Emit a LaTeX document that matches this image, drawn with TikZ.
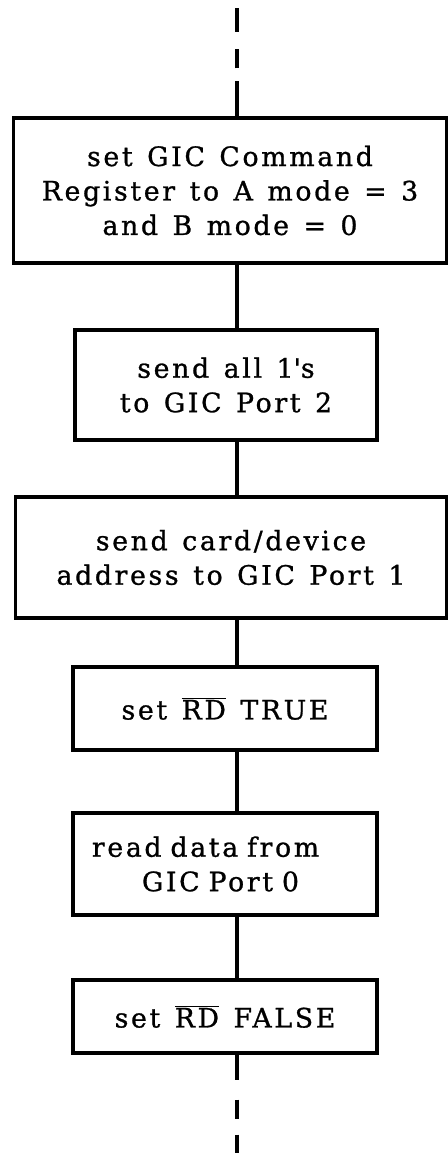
\documentclass[tikz,border=0pt]{standalone}
\usepackage{fontspec}
\setmainfont{DejaVu Serif}[LetterSpace=10, WordSpace=1.3, FakeBold=1]
\usetikzlibrary{positioning}

\newcommand{\flowfont}{\fontsize{19}{24.5}\selectfont}
\newcommand{\notRD}{$\overline{\hbox{RD}}$}

\tikzset{
  stepbox/.style={draw, line width=2.2pt, inner sep=0pt, align=center, font=\flowfont},
  flowline/.style={line width=2.2pt},
  flowdashtop/.style={flowline, dash pattern=on 24.9pt off 9.2pt on 14.2pt off 12.1pt on 17.8pt off 50pt},
  flowdashbot/.style={flowline, dash pattern=on 17.8pt off 14.2pt on 13.5pt off 11.4pt on 14.2pt off 50pt},
}

\begin{document}
\begin{tikzpicture}[x=0.025cm, y=-0.025cm]
  \useasboundingbox (0,0) rectangle (448,1153);
  \coordinate (spine) at (237,0);

  % the six steps
  \node[stepbox, minimum width=10.8cm, minimum height=3.625cm] (cmdreg) at (230,190.5)
    {set GIC Command\\Register to A mode = 3\\and B mode = 0};
  \node[stepbox, minimum width=7.55cm, minimum height=2.75cm] (ones) at (226,385)
    {send all 1\textquotesingle s\\to GIC Port 2};
  \node[stepbox, minimum width=10.75cm, minimum height=3.025cm] (addr) at (231,557.5)
    {send card/device\\address to GIC Port 1};
  \node[stepbox, minimum width=7.6cm, minimum height=2.075cm] (rdtrue) at (225,708.5)
    {set \notRD{} TRUE};
  \node[stepbox, text width=7.6cm, align=left, minimum height=2.55cm] (readdata) at (225,864)
    {\hspace*{0.475cm}read data from\\\hspace*{1.725cm}GIC Port 0};
  \node[stepbox, minimum width=7.6cm, minimum height=1.825cm] (rdfalse) at (225,1016.5)
    {set \notRD{} FALSE};

  % loose ends
  \coordinate (entry) at (237,8);
  \coordinate (exit) at (237,1153);
  \draw[flowdashtop] (cmdreg.north -| spine) -- (entry);
  \draw[flowdashbot] (rdfalse.south -| spine) -- (exit);

  % connectors
  \foreach \a/\b in {cmdreg/ones, ones/addr, addr/rdtrue, rdtrue/readdata, readdata/rdfalse}
    \draw[flowline] (\a.south -| spine) -- (\b.north -| spine);
\end{tikzpicture}
\end{document}
